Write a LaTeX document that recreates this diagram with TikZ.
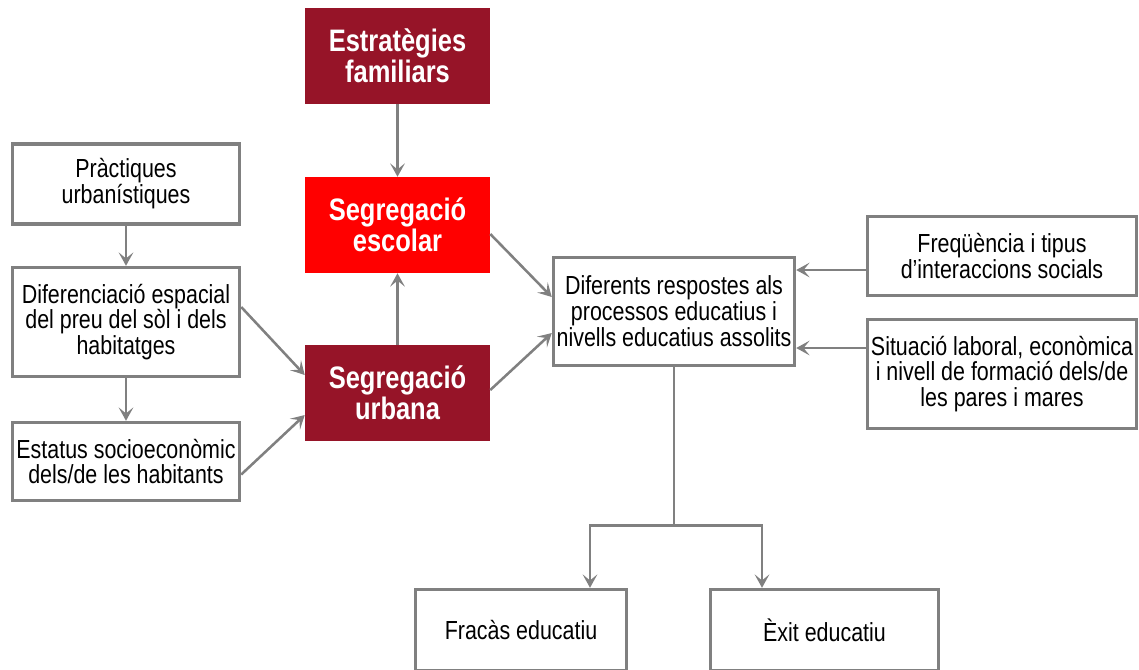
\documentclass[tikz,border=0pt]{standalone}
\usepackage{fontspec}
\setmainfont{Liberation Sans}[FakeStretch=0.82]
\usetikzlibrary{arrows.meta,calc}
\definecolor{granat}{RGB}{150,20,40}
\definecolor{vora}{RGB}{128,128,128}

\begin{document}
\begin{tikzpicture}[x=0.75pt,y=-0.75pt,
    caixa/.style={draw=vora, line width=2.6pt, fill=white, align=center, inner sep=1pt,
      font=\fontsize{19.6}{19.4}\selectfont},
    factor/.style={fill=granat, text=white, align=center, inner sep=1pt,
      minimum width=138.75pt, minimum height=72pt,
      font=\fontsize{23.3}{23}\selectfont\bfseries},
    arr/.style={draw=vora, line width=1.9pt, -{Stealth[length=10pt,width=11pt,inset=4.5pt]}}]
    \useasboundingbox (0,0) rectangle (1139,669);

    % central column
    \node[factor] (familiars) at (397.5,56) {Estratègies\\familiars};
    \node[factor, fill=red] (escolar) at (397.5,225) {Segregació\\escolar};
    \node[factor] (urbana) at (397.5,393) {Segregació\\urbana};

    % left column
    \node[caixa, minimum width=170.25pt, minimum height=60pt] (practiques) at (126,184) {Pràctiques\\urbanístiques};
    \node[caixa, minimum width=170.25pt, minimum height=81.75pt] (diferenciacio) at (126,322) {Diferenciació espacial\\del preu del sòl i dels\\habitatges};
    \node[caixa, minimum width=170.25pt, minimum height=58.5pt] (estatus) at (126,461.5) {Estatus socioeconòmic\\dels/de les habitants};

    % result and right column
    \node[caixa, minimum width=180.75pt, minimum height=81pt] (respostes) at (674,311.5) {Diferents respostes als\\processos educatius i\\nivells educatius assolits};
    \node[caixa, minimum width=201.75pt, minimum height=59.25pt] (frequencia) at (1002,256) {Freqüència i tipus\\d’interaccions socials};
    \node[caixa, minimum width=201.75pt, minimum height=81.75pt] (situacio) at (1002,374) {Situació laboral, econòmica\\i nivell de formació dels/de\\les pares i mares};

    % outcomes
    \node[caixa, minimum width=158.25pt, minimum height=60.75pt] (fracas) at (521,630) {Fracàs educatiu};
    \node[caixa, minimum width=171pt, minimum height=60.75pt] (exit) at (824.5,630) {Èxit educatiu};
    \coordinate (split) at ($(respostes.south)+(0,158)$);

    % connectors
    \draw[arr] (familiars) -- (escolar);
    \draw[arr] (urbana) -- (escolar);
    \draw[arr] (practiques) -- (diferenciacio);
    \draw[arr] (diferenciacio) -- (estatus);
    \draw[arr] ($(diferenciacio.east)+(0,-15)$) -- ($(urbana.west)+(0,-18)$);
    \draw[arr] ($(estatus.east)+(0,13)$) -- ($(urbana.west)+(0,22)$);
    \draw[arr] ($(escolar.east)+(0,9)$) -- ($(respostes.west)+(0,-14.5)$);
    \draw[arr] ($(urbana.east)+(0,-3)$) -- ($(respostes.west)+(0,21.5)$);
    \draw[arr] ($(frequencia.west)+(0,14)$) -- ($(respostes.east)+(0,-41.5)$);
    \draw[arr] ($(situacio.west)+(0,-26)$) -- ($(respostes.east)+(0,36.5)$);
    \draw[draw=vora, line width=1.9pt] (respostes.south) -- (split);
    \draw[arr] (split) -| ($(fracas.north)+(69,0)$);
    \draw[arr] (split) -| ($(exit.north)+(-62.5,0)$);
\end{tikzpicture}
\end{document}
